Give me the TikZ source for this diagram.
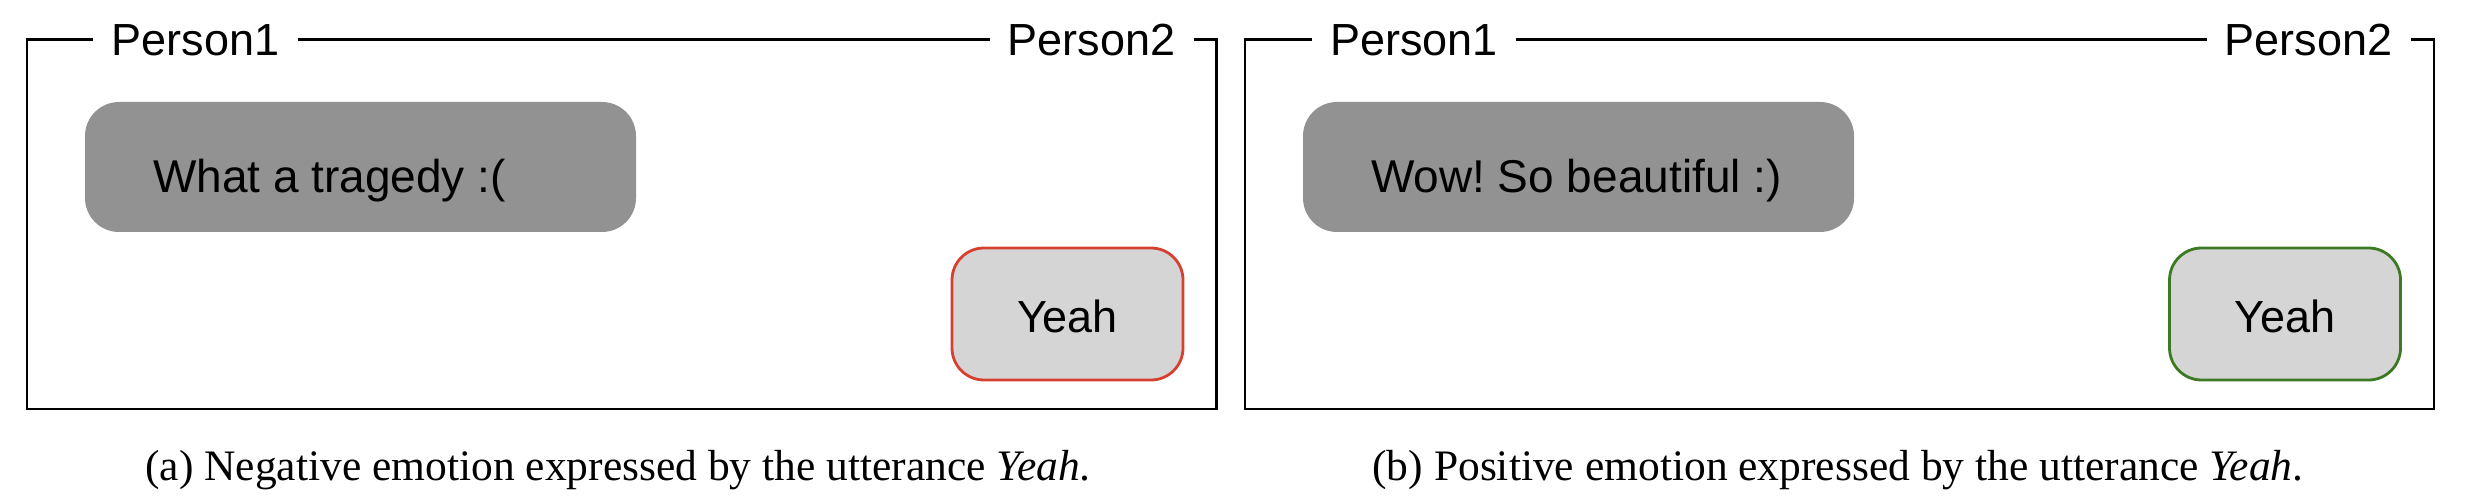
\documentclass[tikz,border=0pt]{standalone}
\usepackage{fontspec}
\setmainfont{Liberation Serif}
\newfontfamily\arialf{Liberation Sans}
\definecolor{bubgray}{HTML}{929292}
\definecolor{bublight}{HTML}{D6D5D6}
\definecolor{negred}{HTML}{D64030}
\definecolor{posgreen}{HTML}{3B7A22}
\begin{document}
\frenchspacing
\begin{tikzpicture}[x=1pt,y=-1pt,
  frame/.style={line width=2.6pt, line join=miter},
  person/.style={font=\arialf\fontsize{45}{54}\selectfont, inner xsep=18pt, inner ysep=0pt, text height=32pt, text depth=0pt},
  said/.style={fill=bubgray, rounded corners=34pt, minimum height=130pt, inner xsep=68pt, inner ysep=0pt, text height=52pt, text depth=0pt, font=\arialf\fontsize{46}{55}\selectfont},
  reply/.style={fill=bublight, line width=2.8pt, rounded corners=32pt, minimum width=231pt, minimum height=132pt, inner sep=0pt, text height=37pt, text depth=0pt, font=\arialf\fontsize{45}{54}\selectfont},
  caption/.style={font=\fontsize{43.5}{52}\selectfont, anchor=base, inner sep=0pt}]
\useasboundingbox (0,0) rectangle (2486,502);
% panel (a)
\coordinate (atl) at (27,39.5);
\coordinate (abl) at (27,409);
\coordinate (abr) at (1216.5,409);
\coordinate (atr) at (1216.5,39.5);
\node[person] (ap1) at (195.5,39.5) {Person1};
\node[person] (ap2) at (1091.5,39.5) {Person2};
\draw[frame] (ap1.west) -- (atl) -- (abl) -- (abr) -- (atr) -- (ap2.east);
\draw[frame] (ap1.east) -- (ap2.west);
\node[said] (as) at (360.5,167) {\makebox[415pt][l]{What a tragedy :(}};
\node[reply, draw=negred] (ar) at (1067.5,314) {Yeah};
\node[caption] (ac) at (618,480) {(a) Negative emotion expressed by the utterance \textit{Yeah}.};
% panel (b)
\coordinate (btl) at (1245,39.5);
\coordinate (bbl) at (1245,409);
\coordinate (bbr) at (2434,409);
\coordinate (btr) at (2434,39.5);
\node[person] (bp1) at (1414,39.5) {Person1};
\node[person] (bp2) at (2308.5,39.5) {Person2};
\draw[frame] (bp1.west) -- (btl) -- (bbl) -- (bbr) -- (btr) -- (bp2.east);
\draw[frame] (bp1.east) -- (bp2.west);
\node[said] (bs) at (1578.5,167) {\makebox[415pt][l]{Wow! So beautiful :)}};
\node[reply, draw=posgreen] (br) at (2285,314) {Yeah};
\node[caption] (bc) at (1838,480) {(b) Positive emotion expressed by the utterance \textit{Yeah}.};
\end{tikzpicture}
\end{document}
